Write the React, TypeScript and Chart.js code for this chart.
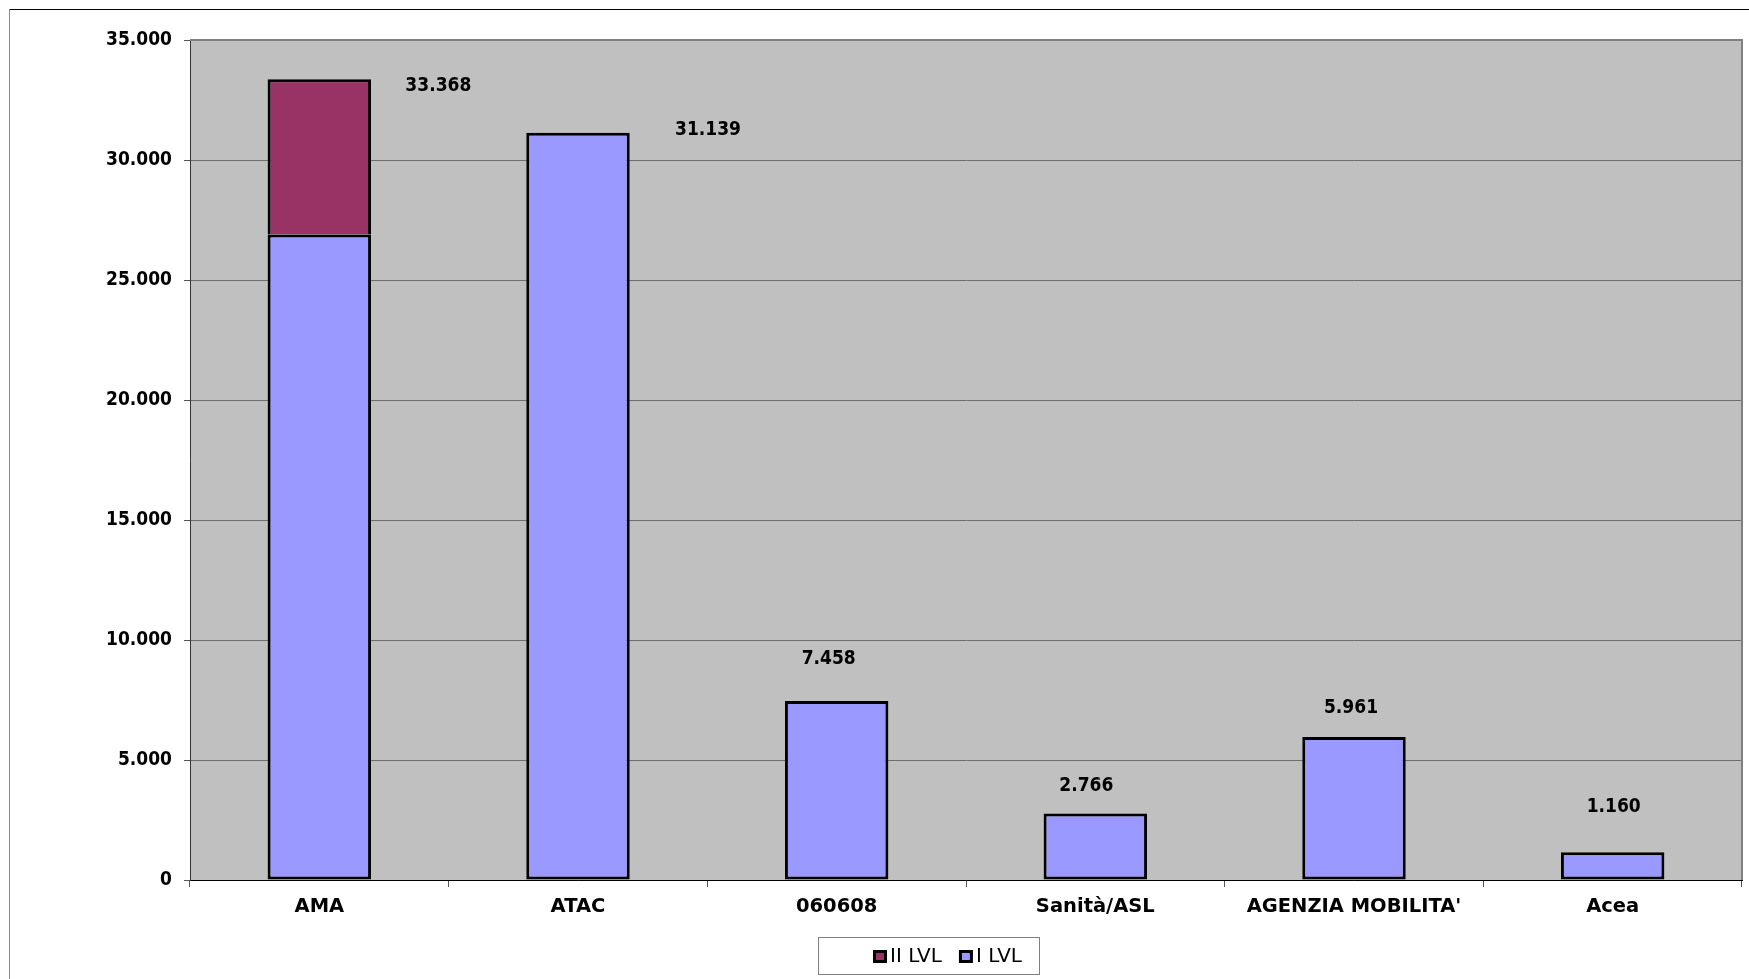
import React, { useEffect, useRef } from "react";
import { Chart, registerables } from "chart.js";

Chart.register(...registerables);

// ---- data ----
const categories = ["AMA", "ATAC", "060608", "Sanità/ASL", "AGENZIA MOBILITA'", "Acea"];
const levelOne = [26900, 31139, 7458, 2766, 5961, 1160];
const levelTwo = [6468, null, null, null, null, null];
const yMax = 35000;
const yStep = 5000;

// ---- style ----
const W = 1749;
const H = 979;
const NUM_FONT = "'DejaVu Sans Condensed', 'DejaVu Sans', sans-serif";
const CAT_FONT = "'DejaVu Sans', sans-serif";
const COLOR_ONE = "#9999FF";
const COLOR_TWO = "#993366";
// label offsets (px) from the top-centre of each stacked bar
const labelOffsets: [number, number][] = [
  [119, 7],
  [130, -3],
  [-8, -42],
  [-9, -28],
  [-3, -29],
  [1, -45],
];
const legendBox = { x: 818, y: 937, w: 222, h: 38, itemsStart: 873 };

function formatIt(n: number): string {
  return String(Math.round(n)).replace(/\B(?=(\d{3})+(?!\d))/g, ".");
}

const framePlugin = {
  id: "frame",
  beforeDraw(chart: any) {
    const { ctx, chartArea: a } = chart;
    ctx.save();
    ctx.fillStyle = "#ffffff";
    ctx.fillRect(0, 0, chart.width, chart.height);
    // outer chart border
    ctx.lineWidth = 1;
    ctx.strokeStyle = "#000000";
    ctx.beginPath();
    ctx.moveTo(9, 9.5);
    ctx.lineTo(chart.width, 9.5);
    ctx.stroke();
    ctx.strokeStyle = "#8c8c8c";
    ctx.beginPath();
    ctx.moveTo(9.5, 9);
    ctx.lineTo(9.5, chart.height);
    ctx.stroke();
    // plot area
    ctx.fillStyle = "#C0C0C0";
    ctx.fillRect(a.left, a.top, a.right - a.left, a.bottom - a.top);
    ctx.restore();
  },
  beforeDatasetsDraw(chart: any) {
    const { ctx, chartArea: a } = chart;
    ctx.save();
    ctx.strokeStyle = "#808080";
    ctx.lineWidth = 2;
    ctx.beginPath();
    ctx.moveTo(a.left, a.top);
    ctx.lineTo(a.right, a.top);
    ctx.lineTo(a.right, a.bottom);
    ctx.stroke();
    ctx.restore();
  },
  afterDatasetsDraw(chart: any) {
    const { ctx } = chart;
    const xs = chart.scales.x;
    const ys = chart.scales.y;
    ctx.save();
    // totals
    ctx.fillStyle = "#000";
    ctx.font = `bold 19px ${NUM_FONT}`;
    ctx.textAlign = "center";
    ctx.textBaseline = "middle";
    categories.forEach((_, i) => {
      const total = chart.data.datasets.reduce(
        (s: number, d: any) => s + (d.data[i] ?? 0),
        0
      );
      const x = xs.getPixelForValue(i) + labelOffsets[i][0];
      const y = ys.getPixelForValue(total) + labelOffsets[i][1];
      ctx.fillText(formatIt(total), x, y);
    });
    // legend
    const b = legendBox;
    ctx.fillStyle = "#fff";
    ctx.fillRect(b.x, b.y, b.w, b.h);
    ctx.strokeStyle = "#808080";
    ctx.lineWidth = 1;
    ctx.strokeRect(b.x + 0.5, b.y + 0.5, b.w - 1, b.h - 1);
    ctx.font = `20px ${CAT_FONT}`;
    ctx.textAlign = "left";
    const cy = b.y + b.h / 2;
    let x = b.itemsStart;
    const items = [...chart.data.datasets].reverse();
    items.forEach((d: any) => {
      ctx.fillStyle = "#000";
      ctx.fillRect(x, cy - 6, 14, 13);
      ctx.fillStyle = d.backgroundColor;
      ctx.fillRect(x + 3, cy - 3, 8, 7);
      ctx.fillStyle = "#000";
      ctx.fillText(d.label, x + 17, cy + 1);
      x += 17 + ctx.measureText(d.label).width + 17;
    });
    ctx.restore();
  },
};

export default function App() {
  const ref = useRef<HTMLCanvasElement | null>(null);

  useEffect(() => {
    if (!ref.current) return;
    const chart = new Chart(ref.current, {
      type: "bar",
      data: {
        labels: categories,
        datasets: [
          {
            label: "I LVL",
            data: levelOne,
            backgroundColor: COLOR_ONE,
            borderColor: "#000",
            borderWidth: 3,
            borderSkipped: false,
            categoryPercentage: 1,
            barPercentage: 0.4,
          },
          {
            label: "II LVL",
            data: levelTwo as any,
            backgroundColor: COLOR_TWO,
            borderColor: "#000",
            borderWidth: 3,
            borderSkipped: "bottom",
            categoryPercentage: 1,
            barPercentage: 0.4,
          },
        ],
      },
      options: {
        responsive: false,
        animation: false,
        devicePixelRatio: 1,
        layout: { padding: { left: 0, top: 40, right: 7, bottom: 0 } },
        plugins: {
          legend: { display: false },
          tooltip: { enabled: false },
        },
        scales: {
          x: {
            stacked: true,
            offset: true,
            ticks: {
              color: "#000",
              font: { family: CAT_FONT, size: 19.5, weight: "bold" },
              padding: 8,
              maxRotation: 0,
              autoSkip: false,
            },
            grid: {
              display: true,
              drawOnChartArea: false,
              drawTicks: true,
              tickLength: 7,
              tickColor: "#555",
              offset: true,
            },
            border: { display: true, color: "#000", width: 1 },
            afterFit(s: any) {
              s.height = 99;
            },
          },
          y: {
            stacked: true,
            min: 0,
            max: yMax,
            ticks: {
              stepSize: yStep,
              color: "#000",
              font: { family: NUM_FONT, size: 19, weight: "bold" },
              padding: 12,
              callback: (v: any) => formatIt(Number(v)),
            },
            grid: {
              color: "#6e6e6e",
              lineWidth: 1,
              drawTicks: true,
              tickLength: 6,
              tickColor: "#555",
            },
            border: { display: true, color: "#333", width: 1 },
            afterFit(s: any) {
              s.width = 190;
            },
          },
        },
      },
      plugins: [framePlugin],
    });
    return () => chart.destroy();
  }, []);

  return (
    <div style={{ position: "absolute", left: 0, top: 0, width: W, height: H }}>
      <canvas ref={ref} width={W} height={H} style={{ display: "block", width: W, height: H }} />
    </div>
  );
}
